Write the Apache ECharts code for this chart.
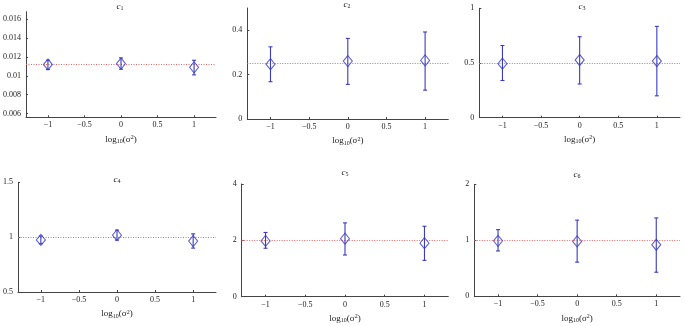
<!DOCTYPE html>
<html>
<head>
<meta charset="utf-8">
<script src="https://cdn.jsdelivr.net/npm/echarts@6/dist/echarts.min.js"></script>
<style>
  html, body { margin: 0; padding: 0; background: #fff; }
  #chart { width: 685px; height: 326px; }
</style>
</head>
<body>
<div id="chart"></div>
<script>
// x positions: log10(sigma^2)
const logSigma = [-1, 0, 1]
const xTicks   = [-1, -0.5, 0, 0.5, 1]

// estimated parameter, lower / upper error bar, per panel
const c1Mean = [0.0112, 0.0113, 0.0109]
const c1Low  = [0.01067, 0.0107, 0.0101]
const c1High = [0.01165, 0.0119, 0.01165]

const c2Mean = [0.247, 0.261, 0.264]
const c2Low  = [0.168, 0.156, 0.130]
const c2High = [0.325, 0.363, 0.392]

const c3Mean = [0.494, 0.527, 0.518]
const c3Low  = [0.340, 0.308, 0.200]
const c3High = [0.660, 0.740, 0.835]

const c4Mean = [0.975, 1.018, 0.964]
const c4Low  = [0.940, 0.973, 0.900]
const c4High = [1.010, 1.064, 1.030]

const c5Mean = [1.98, 2.06, 1.90]
const c5Low  = [1.72, 1.48, 1.29]
const c5High = [2.28, 2.62, 2.50]

const c6Mean = [0.99, 0.98, 0.92]
const c6Low  = [0.81, 0.61, 0.43]
const c6High = [1.19, 1.36, 1.40]

// true values (dotted reference lines)
const trueVals = [0.0112, 0.25, 0.5, 1, 2, 1]

// y axis ranges and tick labels
const yMins  = [0.0056, 0, 0, 0.5, 0, 0]
const yMaxs  = [0.0168, 0.5, 1, 1.5, 4, 2]
const yTicks = [
  [0.006, 0.008, 0.01, 0.012, 0.014, 0.016],
  [0, 0.2, 0.4],
  [0, 0.5, 1],
  [0.5, 1, 1.5],
  [0, 2, 4],
  [0, 1, 2],
]

const means = [c1Mean, c2Mean, c3Mean, c4Mean, c5Mean, c6Mean]
const lows  = [c1Low, c2Low, c3Low, c4Low, c5Low, c6Low]
const highs = [c1High, c2High, c3High, c4High, c5High, c6High]

const FONT = '"Liberation Serif", "DejaVu Serif", serif'
const BLUE = '#3a3ac0'
const RED  = '#e06a6a'
const AXIS = '#444'

// panel boxes in px: left, top, width, height
const boxes = [
  [23, 11.7, 193, 105.6],
  [247.3, 8, 201, 111],
  [479.3, 8.3, 200.7, 109.4],
  [16, 182.3, 200, 109.7],
  [241.7, 184, 206.6, 112.7],
  [474.3, 184.3, 205.7, 112],
]
// panel title anchor (centre x, top y) in px
const titlePos = [[120, 2], [347, 0], [582, 2], [117, 175], [345, 168], [577, 170]]

const fmt = (v) => String(v).replace('-', '\u2212')

const grid = [], xAxis = [], yAxis = [], series = [], title = []
boxes.forEach((b, i) => {
  grid.push({ left: b[0], top: b[1], width: b[2], height: b[3] })
  xAxis.push({
    type: 'value', gridIndex: i, min: -1.3, max: 1.3,
    axisLine: { onZero: false, lineStyle: { color: AXIS, width: 1 } },
    axisTick: { inside: true, length: 2, customValues: xTicks, lineStyle: { color: AXIS } },
    axisLabel: { customValues: xTicks, formatter: fmt, fontFamily: FONT, fontSize: 8, color: '#222', margin: 4 },
    splitLine: { show: false },
    name: 'log{s|10}(σ{p|2})', nameLocation: 'middle', nameGap: 17,
    nameTextStyle: {
      fontFamily: FONT, fontSize: 9, color: '#222',
      rich: {
        s: { fontFamily: FONT, fontSize: 6, color: '#222', verticalAlign: 'bottom', padding: [4, 0, 0, 0] },
        p: { fontFamily: FONT, fontSize: 6, color: '#222', verticalAlign: 'top', padding: [0, 0, 4, 0] },
      },
    },
  })
  yAxis.push({
    type: 'value', gridIndex: i, min: yMins[i], max: yMaxs[i],
    axisLine: { show: true, onZero: false, lineStyle: { color: AXIS, width: 1 } },
    axisTick: { show: true, inside: true, length: 2, customValues: yTicks[i], lineStyle: { color: AXIS } },
    axisLabel: { customValues: yTicks[i], fontFamily: FONT, fontSize: 8, color: '#222', margin: 5 },
    splitLine: { show: false },
  })
  title.push({
    text: '{c|c}{s|' + (i + 1) + '}',
    left: titlePos[i][0], top: titlePos[i][1], textAlign: 'center', padding: 0,
    textStyle: {
      fontWeight: 'normal',
      rich: {
        c: { fontFamily: FONT, fontStyle: 'italic', fontWeight: 'normal', fontSize: 9, color: '#222' },
        s: { fontFamily: FONT, fontWeight: 'normal', fontSize: 6, color: '#222', verticalAlign: 'bottom', padding: [3, 0, 0, 0] },
      },
    },
  })

  const bars = logSigma.map((x, k) => [x, lows[i][k], highs[i][k]])
  series.push({
    type: 'custom', xAxisIndex: i, yAxisIndex: i, data: bars, silent: true,
    renderItem: (params, api) => {
      const lo = api.coord([api.value(0), api.value(1)])
      const hi = api.coord([api.value(0), api.value(2)])
      const cap = 2
      const st = { stroke: BLUE, lineWidth: 1.1 }
      return {
        type: 'group',
        children: [
          { type: 'line', shape: { x1: lo[0], y1: lo[1], x2: hi[0], y2: hi[1] }, style: st },
          { type: 'line', shape: { x1: lo[0] - cap, y1: lo[1], x2: lo[0] + cap, y2: lo[1] }, style: st },
          { type: 'line', shape: { x1: hi[0] - cap, y1: hi[1], x2: hi[0] + cap, y2: hi[1] }, style: st },
        ],
      }
    },
    z: 3,
  })
  series.push({
    type: 'scatter', xAxisIndex: i, yAxisIndex: i,
    data: logSigma.map((x, k) => [x, means[i][k]]),
    symbol: 'diamond', symbolSize: [9, 11],
    itemStyle: { color: 'rgba(255,255,255,0)', borderColor: BLUE, borderWidth: 1.1 },
    z: 4,
    markLine: {
      silent: true, symbol: 'none', label: { show: false }, precision: 6,
      lineStyle: { color: RED, type: [1, 1.5], width: 1 },
      data: [{ yAxis: trueVals[i] }],
      z: 1,
    },
  })
})

const chart = echarts.init(document.getElementById('chart'), null, { renderer: 'canvas' })
chart.setOption({
  backgroundColor: '#fff',
  animation: false,
  title, grid, xAxis, yAxis, series,
})
</script>
</body>
</html>
